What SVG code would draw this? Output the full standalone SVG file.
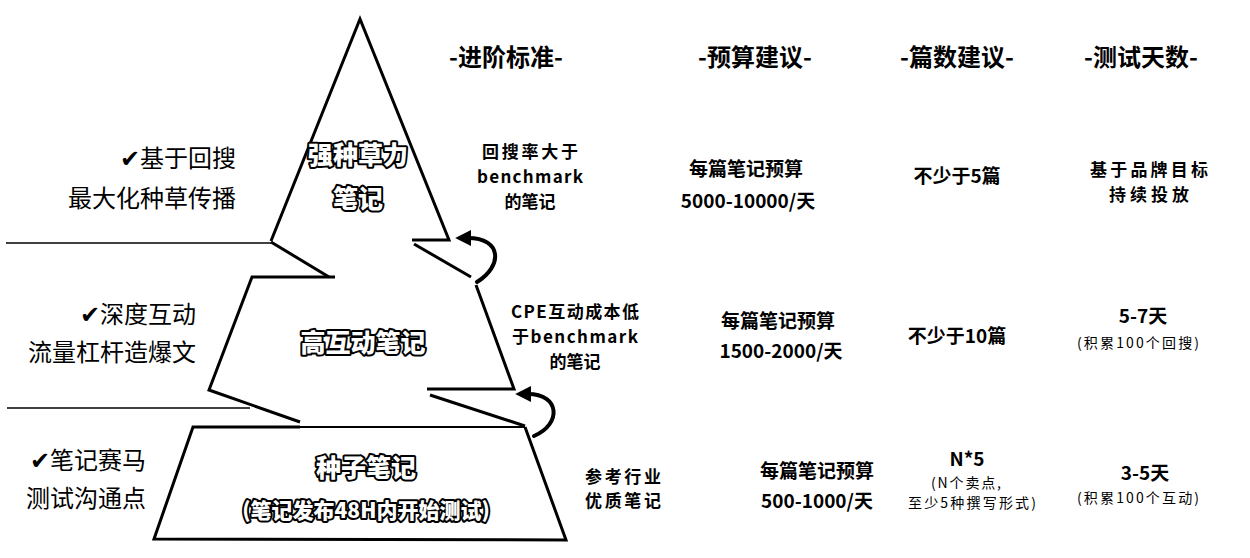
<svg xmlns="http://www.w3.org/2000/svg" width="1250" height="558" viewBox="0 0 1250 558">
<style>
.ln{fill:none;stroke:#000;stroke-width:3;stroke-linejoin:miter;stroke-linecap:butt}
.thin{fill:none;stroke:#000;stroke-width:1.5}
.lbl{font-family:"Noto Sans CJK SC","Noto Sans",sans-serif;font-weight:900;fill:#fff;stroke:#000;stroke-width:4;paint-order:stroke fill;stroke-linejoin:round;text-anchor:middle}
.side{font-family:"Noto Sans CJK SC","DejaVu Sans",sans-serif;font-size:24px;fill:#000;text-anchor:end}
.hd{font-family:"Noto Sans CJK SC",sans-serif;font-size:24px;font-weight:700;fill:#000;text-anchor:middle}
.cell{font-family:"Noto Sans CJK SC",sans-serif;font-size:19px;font-weight:700;fill:#000;text-anchor:middle}
.st{font-family:"Noto Sans CJK SC",sans-serif;font-size:17px;font-weight:700;fill:#000;text-anchor:middle}
.sm{font-family:"Noto Sans CJK SC",sans-serif;font-size:14px;fill:#000;text-anchor:middle}
.arr{fill:none;stroke:#000;stroke-width:4;stroke-linecap:round}
</style>
<defs>
<marker id="ah" viewBox="0 0 10 10" refX="2" refY="5" markerWidth="4" markerHeight="4" orient="auto" markerUnits="strokeWidth">
<path d="M0,0 L10,5 L0,10 z" fill="#000"/>
</marker>
</defs>
<rect width="1250" height="558" fill="#fff"/>

<g id="headers">
<text class="hd" x="506" y="66">-进阶标准-</text>
<text class="hd" x="755" y="66">-预算建议-</text>
<text class="hd" x="957" y="66">-篇数建议-</text>
<text class="hd" x="1141" y="66">-测试天数-</text>
</g>

<g id="level-top">
<polyline class="ln" points="271,241 360,19 449,240 412,240"/>
<line class="thin" x1="6" y1="243" x2="271" y2="243"/>
<line class="ln" x1="271" y1="242" x2="329" y2="277"/>
<line class="ln" x1="414" y1="244" x2="471" y2="277"/>
<text class="lbl" x="358" y="164" font-size="25">强种草力</text>
<text class="lbl" x="358" y="208" font-size="25">笔记</text>
<text class="side" x="236" y="167">✔基于回搜</text>
<text class="side" x="236" y="207">最大化种草传播</text>
<text class="st" x="530" y="158" textLength="96">回搜率大于</text>
<text class="st" x="530" y="183" textLength="106">benchmark</text>
<text class="st" x="530" y="208">的笔记</text>
<text class="cell" x="746" y="176">每篇笔记预算</text>
<text class="cell" x="748" y="208">5000-10000/天</text>
<text class="cell" x="957" y="183">不少于5篇</text>
<text class="st" x="1149" y="176" textLength="118">基于品牌目标</text>
<text class="st" x="1149" y="201" textLength="80">持续投放</text>
</g>

<g id="level-mid">
<polyline class="ln" points="335,277 252,277 209,390 300,422"/>
<polyline class="ln" points="476,285 514,389 427,389"/>
<line class="ln" x1="430" y1="395" x2="525" y2="426"/>
<line class="thin" x1="7" y1="408" x2="250" y2="408"/>
<text class="lbl" x="363" y="352" font-size="25">高互动笔记</text>
<text class="side" x="196" y="323">✔深度互动</text>
<text class="side" x="196" y="361">流量杠杆造爆文</text>
<text class="st" x="575" y="318" textLength="128">CPE互动成本低</text>
<text class="st" x="575" y="343" textLength="126">于benchmark</text>
<text class="st" x="575" y="368">的笔记</text>
<text class="cell" x="778" y="328">每篇笔记预算</text>
<text class="cell" x="781" y="358">1500-2000/天</text>
<text class="cell" x="957" y="343">不少于10篇</text>
<text class="cell" x="1143" y="323">5-7天</text>
<text class="sm" x="1138" y="348" textLength="122">(积累100个回搜)</text>
</g>

<g id="level-bottom">
<polyline class="ln" points="300,427 193,427 154,539 566,540 525,427"/>
<line x1="300" y1="427" x2="525" y2="427" stroke="#000" stroke-width="2"/>
<text class="lbl" x="366" y="477" font-size="25">种子笔记</text>
<text class="lbl" x="366" y="518" font-size="21">(笔记发布48H内开始测试)</text>
<text class="side" x="146" y="469">✔笔记赛马</text>
<text class="side" x="146" y="507">测试沟通点</text>
<text class="st" x="623" y="483" font-size="16" textLength="76">参考行业</text>
<text class="st" x="623" y="507" font-size="16" textLength="76">优质笔记</text>
<text class="cell" x="817" y="478">每篇笔记预算</text>
<text class="cell" x="817" y="508">500-1000/天</text>
<text class="cell" x="967" y="466" font-size="18">N*5</text>
<text class="sm" x="966" y="487.5" textLength="70">(N个卖点,</text>
<text class="sm" x="972" y="508" textLength="128">至少5种撰写形式)</text>
<text class="cell" x="1145" y="480">3-5天</text>
<text class="sm" x="1138" y="502.5" textLength="122">(积累100个互动)</text>
</g>

<g id="connectors">
<path class="arr" d="M477,282 C503,266 502,238 468,238" marker-end="url(#ah)"/>
<path class="arr" d="M534,436 C562,424 560,394 528,394" marker-end="url(#ah)"/>
</g>
</svg>
